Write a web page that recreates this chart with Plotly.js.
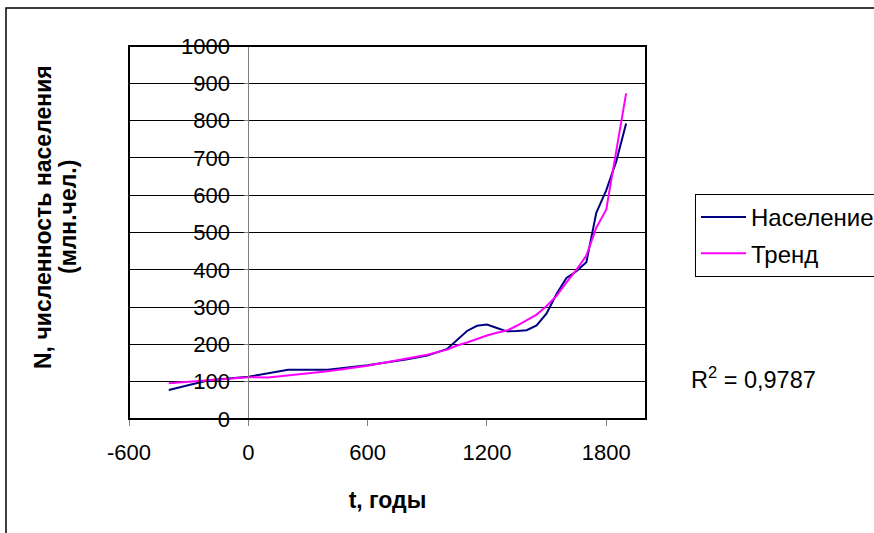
<!DOCTYPE html>
<html>
<head>
<meta charset="utf-8">
<script src="https://cdn.plot.ly/plotly-3.0.1.min.js"></script>
<style>html,body{margin:0;padding:0;background:#fff;}#chart{width:874px;height:533px;}</style>
</head>
<body>
<div id="chart"></div>
<script>
var years = [-400, -200, 0, 100, 200, 400, 600, 800, 900, 1000, 1050, 1100, 1150, 1200, 1250, 1300, 1350, 1400, 1450, 1500, 1550, 1600, 1650, 1700, 1750, 1800, 1850, 1900];
var population = [78, 104, 113, 123, 132, 132, 144, 160, 170, 188, 213, 236, 250, 253, 244, 235, 236, 238, 251, 283, 335, 378, 396, 420, 553, 613, 690, 792];
var trend = [96, 104, 112, 111, 116, 128, 143, 162, 172, 186, 197, 205, 215, 224, 231, 237, 250, 264, 280, 303, 330, 366, 400, 438, 513, 561, 717, 873];
var xTicks = [-600, 0, 600, 1200, 1800];
var seriesNames = ['Население', 'Тренд'];
var yTitleLines = ['N, численность населения', '(млн.чел.)'];
var xTitle = 't, годы';
var r2Text = 'R<sup>2</sup> = 0,9787';

var font = 'Liberation Sans, Arial, sans-serif';
var traces = [
  {x: years, y: population, name: seriesNames[0], type: 'scatter', mode: 'lines',
   line: {color: '#000080', width: 2}, legendgroup: 'a'},
  {x: years, y: trend, name: seriesNames[1], type: 'scatter', mode: 'lines',
   line: {color: '#FF00FF', width: 2}, legendgroup: 'b'}
];
var layout = {
  width: 874, height: 533,
  margin: {l: 129, r: 228, t: 46, b: 114, autoexpand: false},
  paper_bgcolor: '#fff', plot_bgcolor: '#fff',
  font: {family: font, size: 22, color: '#000'},
  showlegend: true,
  xaxis: {
    range: [-600, 2000], tickvals: xTicks, ticktext: xTicks.map(String),
    ticks: 'outside', ticklen: 6, tickcolor: '#808080', tickwidth: 1,
    showgrid: false, zeroline: false, showline: false,
    ticklabelstandoff: 8,
    tickfont: {size: 22},
    title: {text: '<b>' + xTitle + '</b>', font: {size: 23}, standoff: 27}
  },
  yaxis: {
    range: [0, 1000], dtick: 100, anchor: 'free', position: 600/2600,
    showline: true, linecolor: '#808080', linewidth: 1,
    ticks: 'outside', ticklen: 4, tickcolor: '#808080',
    showgrid: true, gridcolor: '#000', gridwidth: 1, zeroline: false,
    ticklabelstandoff: 10,
    tickfont: {size: 22}
  },
  legend: {
    x: (695-129)/517, xanchor: 'left', y: (419-194)/373, yanchor: 'top',
    bordercolor: '#000', borderwidth: 1, bgcolor: '#fff',
    font: {size: 24}, traceorder: 'grouped', tracegroupgap: 2, itemwidth: 45
  },
  shapes: [
    {type: 'rect', xref: 'paper', yref: 'paper', x0: 0, x1: 1, y0: 0, y1: 1,
     line: {color: '#000', width: 2}, layer: 'above'},
    {type: 'rect', xref: 'paper', yref: 'paper', x0: (6-129)/517, x1: 3, y0: -3, y1: (419-8)/373,
     line: {color: '#000', width: 1.5}, layer: 'below'}
  ],
  annotations: [
    {text: '<b>' + yTitleLines[0] + '</b>', xref: 'paper', yref: 'paper',
     x: (43-129)/517, y: (419-217)/373, xanchor: 'center', yanchor: 'middle', textangle: -90,
     showarrow: false, font: {size: 23}},
    {text: '<b>' + yTitleLines[1] + '</b>', xref: 'paper', yref: 'paper',
     x: (68-129)/517, y: (419-217)/373, xanchor: 'center', yanchor: 'middle', textangle: -90,
     showarrow: false, font: {size: 23}},
    {text: r2Text, xref: 'paper', yref: 'paper', x: (689-129)/517, y: (419-378)/373,
     xanchor: 'left', yanchor: 'middle', showarrow: false, font: {size: 23.5}}
  ]
};
Plotly.newPlot('chart', traces, layout, {displayModeBar: false, staticPlot: true});
</script>
</body>
</html>
